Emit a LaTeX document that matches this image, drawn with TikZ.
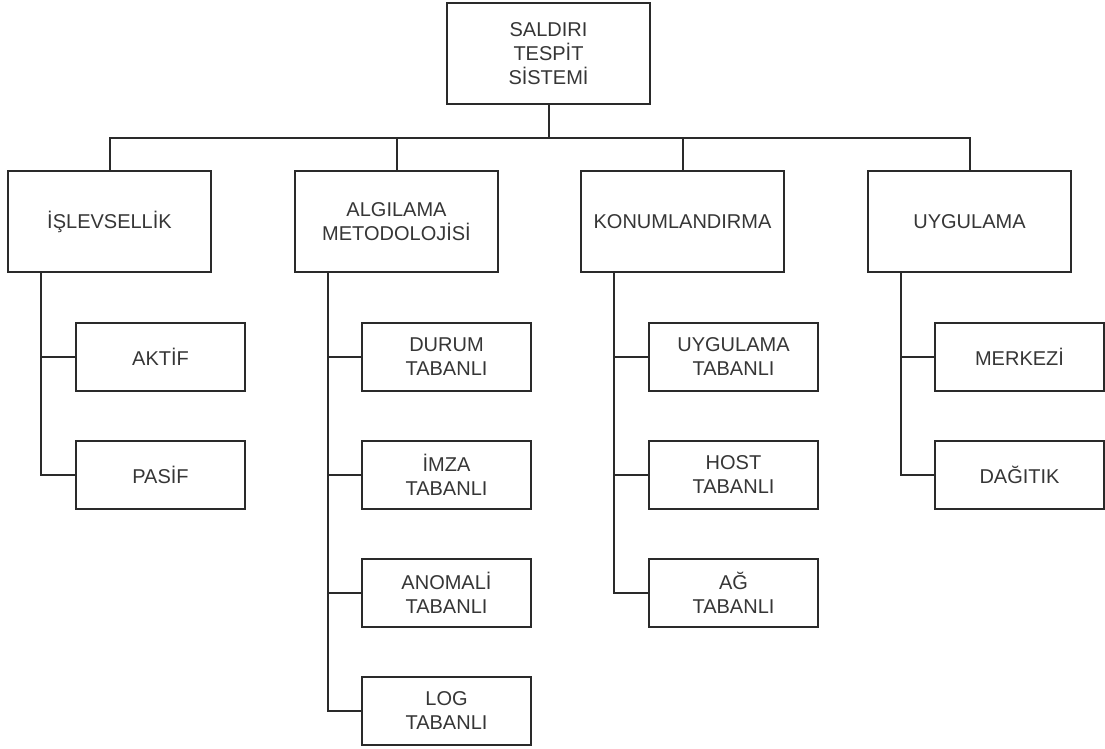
\documentclass[tikz,border=0pt]{standalone}
\usepackage{fontspec}
\setmainfont{Liberation Sans}
\usetikzlibrary{calc}
\definecolor{edgecol}{HTML}{2A2A2A}
\definecolor{txtcol}{HTML}{363636}
\begin{document}
\begin{tikzpicture}[x=1pt,y=-1pt,
  box/.style={draw=edgecol, line width=2pt, fill=white, rectangle, inner sep=0pt,
    align=center, text=txtcol, font=\fontsize{20}{24}\selectfont},
  mainbox/.style={box, minimum width=203pt, minimum height=101pt},
  subbox/.style={box, minimum width=169pt, minimum height=68pt},
  link/.style={draw=edgecol, line width=2pt}]
\useasboundingbox[fill=white] (0,0) rectangle (1105,748);

% root
\node[mainbox] (root) at (548.5,53.5) {SALDIRI\\TESPİT\\SİSTEMİ};

% first level
\node[mainbox] (isl) at (109.5,221.5) {İŞLEVSELLİK};
\node[mainbox] (alg) at (396.5,221.5) {ALGILAMA\\METODOLOJİSİ};
\node[mainbox] (kon) at (682.5,221.5) {KONUMLANDIRMA};
\node[mainbox] (uyg) at (969.5,221.5) {UYGULAMA};

% second level
\node[subbox] (aktif) at (160.5,357) {AKTİF};
\node[subbox] (pasif) at (160.5,475) {PASİF};

\node[subbox] (durum) at (446.5,357) {DURUM\\TABANLI};
\node[subbox] (imza) at (446.5,475) {İMZA\\TABANLI};
\node[subbox] (anom) at (446.5,593) {ANOMALİ\\TABANLI};
\node[subbox] (log) at (446.5,711) {LOG\\TABANLI};

\node[subbox] (uygt) at (733.5,357) {UYGULAMA\\TABANLI};
\node[subbox] (host) at (733.5,475) {HOST\\TABANLI};
\node[subbox] (ag) at (733.5,593) {AĞ\\TABANLI};

\node[subbox] (merk) at (1019.5,357) {MERKEZİ};
\node[subbox] (dag) at (1019.5,475) {DAĞITIK};

% bus from root to the first level
\coordinate (bus) at ($(root.south)+(0,33)$);
\foreach \n in {isl,alg,kon,uyg}
  \draw[link] (root.south) -- (bus) -| (\n.north);

% branch stems below each first-level box
\coordinate (islS) at ($(isl.south west)+(34,0)$);
\coordinate (algS) at ($(alg.south west)+(34,0)$);
\coordinate (konS) at ($(kon.south west)+(34,0)$);
\coordinate (uygS) at ($(uyg.south west)+(34,0)$);

\foreach \n in {aktif,pasif} \draw[link] (islS) |- (\n.west);
\foreach \n in {durum,imza,anom,log} \draw[link] (algS) |- (\n.west);
\foreach \n in {uygt,host,ag} \draw[link] (konS) |- (\n.west);
\foreach \n in {merk,dag} \draw[link] (uygS) |- (\n.west);
\end{tikzpicture}
\end{document}
